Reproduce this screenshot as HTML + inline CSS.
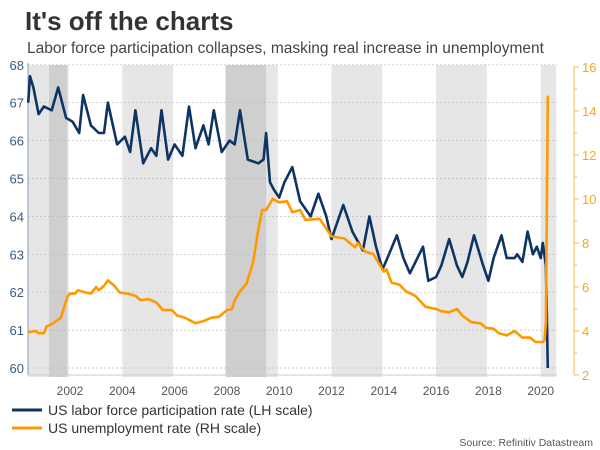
<!DOCTYPE html>
<html><head><meta charset="utf-8"><style>
body{margin:0;background:#fff;width:600px;height:450px;overflow:hidden;font-family:"Liberation Sans",sans-serif}
svg{display:block}
</style></head><body>
<svg id="chart" width="600" height="450">
<text x="25" y="30" font-size="26" font-weight="bold" fill="#333">It's off the charts</text>
<text x="27" y="53" font-size="15.5" fill="#444">Labor force participation collapses, masking real increase in unemployment</text>
<g id="bands"></g><g id="grid"></g><g id="axes"></g><g id="lines"></g>
<line x1="12" y1="410" x2="42" y2="410" stroke="#0d3463" stroke-width="3"/>
<text x="48" y="415" font-size="14" fill="#333">US labor force participation rate (LH scale)</text>
<line x1="12" y1="428" x2="42" y2="428" stroke="#ff9900" stroke-width="3"/>
<text x="48" y="433" font-size="14" fill="#333">US unemployment rate (RH scale)</text>
<text x="593" y="446" font-size="10.5" fill="#555" text-anchor="end">Source: Refinitiv Datastream</text>
</svg>
<script>
const lfprDates=[2000.4,2000.47,2000.6,2000.8,2001.0,2001.3,2001.55,2001.85,2002.1,2002.35,2002.5,2002.8,2003.1,2003.3,2003.45,2003.8,2004.1,2004.3,2004.5,2004.8,2005.1,2005.3,2005.5,2005.75,2006.0,2006.3,2006.55,2006.8,2007.1,2007.3,2007.5,2007.8,2008.1,2008.3,2008.5,2008.8,2009.2,2009.4,2009.5,2009.65,2009.8,2010.0,2010.2,2010.5,2010.8,2011.2,2011.5,2011.8,2012.0,2012.2,2012.45,2012.8,2013.2,2013.45,2013.7,2013.95,2014.2,2014.5,2014.75,2015.0,2015.5,2015.7,2016.0,2016.2,2016.5,2016.8,2017.0,2017.2,2017.45,2017.8,2018.0,2018.2,2018.5,2018.7,2019.0,2019.1,2019.3,2019.5,2019.7,2019.85,2020.0,2020.08,2020.2,2020.27];
const lfprValues=[67.0,67.7,67.4,66.7,66.9,66.8,67.4,66.6,66.5,66.2,67.2,66.4,66.2,66.2,67.0,65.9,66.1,65.7,66.8,65.4,65.8,65.6,66.8,65.5,65.9,65.6,66.9,65.8,66.4,65.9,66.8,65.7,66.0,65.9,66.8,65.5,65.4,65.5,66.2,64.9,64.7,64.5,64.9,65.3,64.4,64.0,64.6,64.0,63.4,63.8,64.3,63.6,63.1,64.0,63.2,62.6,63.0,63.5,62.9,62.5,63.2,62.3,62.4,62.7,63.4,62.7,62.4,62.8,63.5,62.7,62.3,62.9,63.5,62.9,62.9,63.0,62.8,63.6,63.0,63.2,62.9,63.3,62.7,60.0];
const unDates=[2000.4,2000.7,2000.8,2001.0,2001.1,2001.35,2001.65,2001.9,2002.0,2002.2,2002.3,2002.6,2002.8,2003.0,2003.1,2003.3,2003.45,2003.7,2003.9,2004.2,2004.5,2004.7,2005.0,2005.3,2005.55,2005.9,2006.1,2006.4,2006.8,2007.1,2007.4,2007.7,2008.0,2008.2,2008.3,2008.5,2008.75,2009.0,2009.2,2009.35,2009.5,2009.75,2010.0,2010.3,2010.5,2010.8,2011.0,2011.55,2012.0,2012.5,2012.9,2013.0,2013.3,2013.6,2014.0,2014.1,2014.3,2014.6,2014.85,2015.2,2015.6,2016.0,2016.2,2016.5,2016.8,2017.0,2017.35,2017.7,2017.9,2018.2,2018.4,2018.7,2019.0,2019.3,2019.6,2019.8,2020.1,2020.15,2020.2,2020.27];
const unValues=[3.95,4.0,3.9,3.9,4.2,4.35,4.6,5.55,5.7,5.7,5.85,5.75,5.7,6.0,5.85,6.05,6.3,6.05,5.75,5.7,5.6,5.4,5.45,5.3,4.95,4.95,4.7,4.6,4.35,4.45,4.6,4.65,4.95,5.0,5.4,5.8,6.15,7.1,8.6,9.5,9.5,10.0,9.85,9.9,9.4,9.5,9.05,9.1,8.3,8.2,7.8,8.0,7.6,7.5,6.7,6.8,6.2,6.1,5.8,5.6,5.1,5.0,4.9,4.85,5.0,4.7,4.4,4.35,4.15,4.1,3.9,3.8,4.0,3.7,3.7,3.5,3.5,3.6,4.4,14.7];
const xTicks=[2002,2004,2006,2008,2010,2012,2014,2016,2018,2020];
const leftTicks=[60,61,62,63,64,65,66,67,68];
const rightTicks=[2,4,6,8,10,12,14,16];
const shadeBands=[[2000.4,2002],[2004,2006],[2008,2010],[2012,2014],[2016,2018],[2020,2020.65]];
const recessions=[[2001.2,2001.9],[2007.95,2009.5]];
const NS="http://www.w3.org/2000/svg";
const X=y=>70+(y-2002)*26.15;
const YL=v=>368-(v-60)*37.9;
const YR=v=>375-(v-2)*22;
function mk(parent,tag,attrs){const e=document.createElementNS(NS,tag);for(const k in attrs)e.setAttribute(k,attrs[k]);document.getElementById(parent).appendChild(e);return e;}
const L=28,R=557,T=65,B=375;
shadeBands.forEach(b=>{
 const e=mk('bands','rect',{x:X(b[0]),y:T,width:X(b[1])-X(b[0])-1.5,height:B-T+2,fill:'#e6e6e6'});
 
 
});
recessions.forEach(b=>{
 const e=mk('bands','rect',{x:X(b[0]),y:T,width:X(b[1])-X(b[0]),height:B-T+2,fill:'#cfcfcf'});
 
 
});
leftTicks.forEach(v=>{
 const g=mk('grid','line',{x1:L,x2:R,y1:YL(v),y2:YL(v),stroke:'#bbb','stroke-width':0.7,'stroke-dasharray':'2,2'});
 
 
 const t=mk('axes','text',{x:L-4,y:YL(v)+5,'text-anchor':'end','font-size':13,fill:'#3b5b86'});
 t.textContent=v;
 
 
});
let a=mk('axes','line',{x1:L,x2:L,y1:T-2,y2:B,stroke:'#8aa0bb','stroke-width':1});


a=mk('axes','line',{x1:L,x2:R,y1:B,y2:B,stroke:'#ccc','stroke-width':1});


xTicks.forEach(y=>{
 const t=mk('axes','text',{x:X(y),y:395,'text-anchor':'middle','font-size':12,fill:'#555'});
 t.textContent=y;
 
 
});
const RX=574;
a=mk('axes','line',{x1:RX,x2:RX,y1:YR(16),y2:YR(2),stroke:'#ffb84d','stroke-width':1});


for(let v=2;v<=16;v++){
 const tk=mk('axes','line',{x1:RX,x2:RX+(v%2?3:5),y1:YR(v),y2:YR(v),stroke:'#ffb84d','stroke-width':1});
 
 
}
rightTicks.forEach(v=>{
 const t=mk('axes','text',{x:582,y:YR(v)+5,'font-size':13,fill:'#ffa31a'});
 t.textContent=v;
 
 
});
const pl=(d,v,f)=>d.map((x,i)=>X(x).toFixed(1)+','+f(v[i]).toFixed(1)).join(' ');
let p=mk('lines','polyline',{points:pl(lfprDates,lfprValues,YL),fill:'none',stroke:'#0d3463','stroke-width':2.6,'stroke-linejoin':'round'});


p=mk('lines','polyline',{points:pl(unDates,unValues,YR),fill:'none',stroke:'#ff9900','stroke-width':2.6,'stroke-linejoin':'round'});


</script>
</body></html>
